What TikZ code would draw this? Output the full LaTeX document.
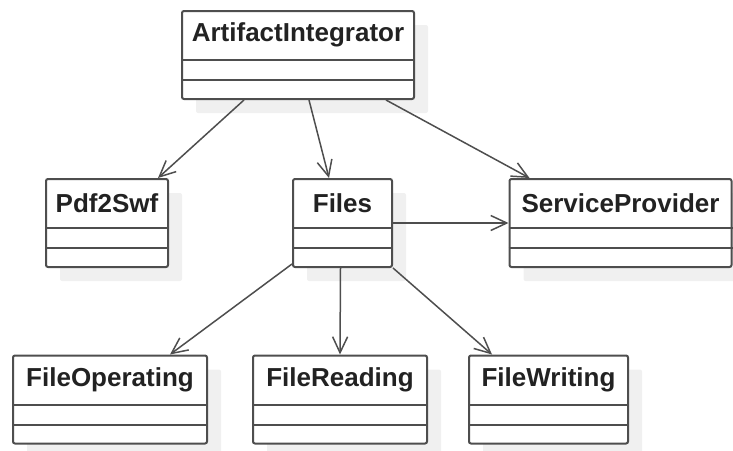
\documentclass[tikz,border=0pt]{standalone}
\usepackage{fontspec}
\setmainfont{Liberation Sans}
\usetikzlibrary{arrows.meta,shadows}
\definecolor{edge}{RGB}{78,78,78}
\definecolor{shade}{RGB}{240,240,240}
\definecolor{ink}{RGB}{34,34,34}
\tikzset{
  umlclass/.style={draw=edge, line width=2pt, fill=white, rounded corners=2pt,
    inner sep=0pt, minimum height=88pt,
    drop shadow={shadow xshift=14pt, shadow yshift=-14pt, fill=shade, opacity=1}},
  classname/.style={inner sep=0pt, text=ink, font=\fontsize{26}{30}\selectfont\bfseries},
  compart/.style={draw=edge, line width=2pt},
  dep/.style={draw=edge, line width=1.5pt, -{Straight Barb[length=16pt, width=15pt, line width=1.5pt]}}
}
% a class box with its name and two empty compartments
\newcommand{\classbox}[4]{%
  \node[umlclass, minimum width=#3pt] (#1) at #2 {};
  \node[classname] (#1-name) at ([yshift=-25pt]#1.north) {#4};
  \draw[compart] ([yshift=-50pt]#1.north west) -- ([yshift=-50pt]#1.north east);
  \draw[compart] ([yshift=-70pt]#1.north west) -- ([yshift=-70pt]#1.north east);
}
\begin{document}
\begin{tikzpicture}[x=1pt, y=-1pt]
\useasboundingbox (0,0) rectangle (733,450);

\classbox{ai}{(298,55)}{232}{ArtifactIntegrator}
\classbox{pdf}{(107,223)}{122}{Pdf2Swf}
\classbox{files}{(342.5,223)}{99}{Files}
\classbox{sp}{(620.5,223)}{222}{ServiceProvider}
\classbox{fo}{(110,399.5)}{194}{FileOperating}
\classbox{fr}{(340,399.5)}{174}{FileReading}
\classbox{fw}{(548.5,399.5)}{159}{FileWriting}

% dependencies of ArtifactIntegrator
\draw[dep] ([xshift=63pt]ai.south west) -- ([xshift=113pt]pdf.north west);
\draw[dep] ([xshift=128pt]ai.south west) -- ([xshift=37pt]files.north west);
\draw[dep] ([xshift=205pt]ai.south west) -- ([xshift=21pt]sp.north west);

% dependencies of Files
\draw[dep] (files.east) -- (sp.west);
\draw[dep] ([yshift=4pt]files.south west) -- ([xshift=158pt]fo.north west);
\draw[dep] ([xshift=48.5pt]files.south west) -- ([xshift=88pt]fr.north west);
\draw[dep] (files.south east) -- ([xshift=24pt]fw.north west);
\end{tikzpicture}
\end{document}
